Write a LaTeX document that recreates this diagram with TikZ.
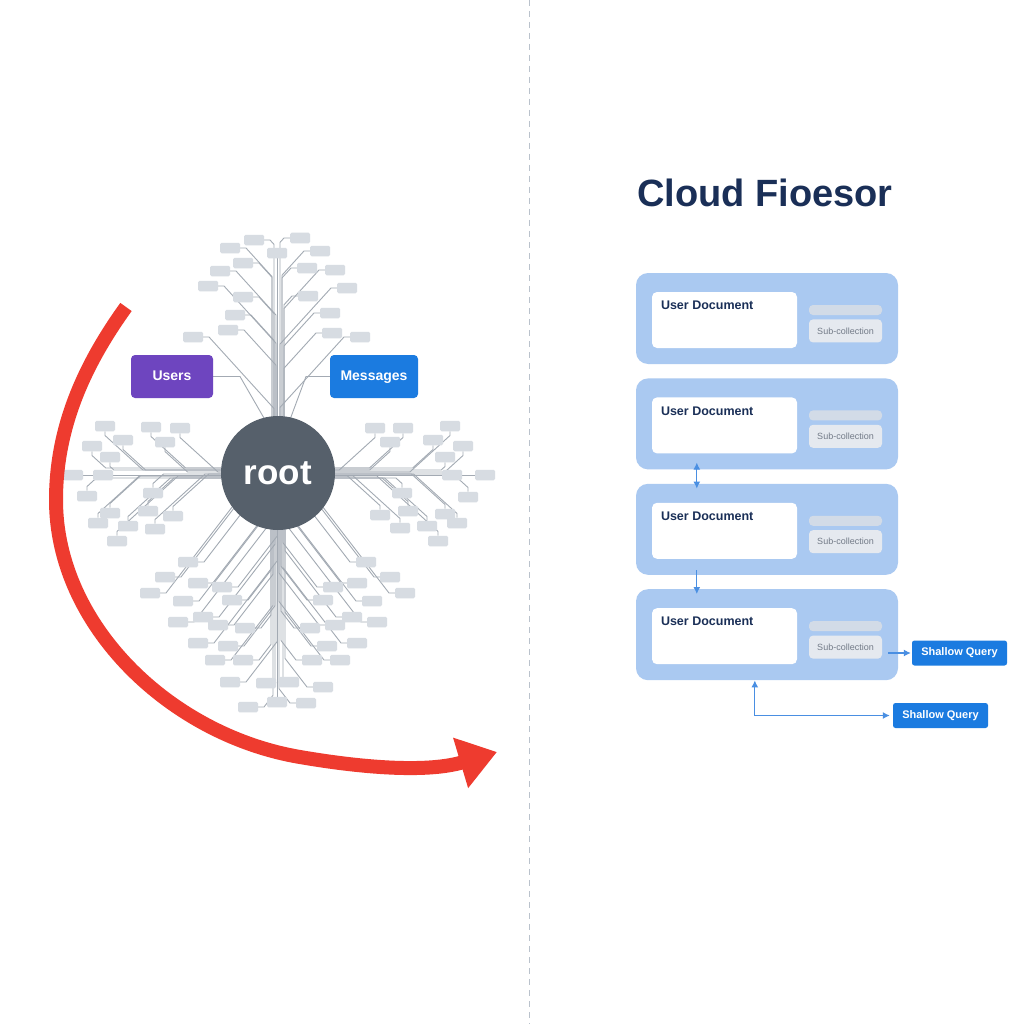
\documentclass[tikz,border=0pt]{standalone}
\usepackage{fontspec}
\setmainfont{Liberation Sans}
\usetikzlibrary{arrows.meta, positioning, calc}

\definecolor{leafgray}{HTML}{D7DCE2}
\definecolor{wiregray}{HTML}{A3AAB3}
\definecolor{rootgray}{HTML}{56606B}
\definecolor{userpurple}{HTML}{6E45BF}
\definecolor{msgblue}{HTML}{1B7BE0}
\definecolor{arcred}{HTML}{EE3B2F}
\definecolor{panelblue}{HTML}{AAC9F1}
\definecolor{navy}{HTML}{1A2F57}
\definecolor{barblue}{HTML}{D2DBE7}
\definecolor{subgray}{HTML}{E5E9EF}
\definecolor{subtext}{HTML}{737B88}
\definecolor{linkblue}{HTML}{4A8FE2}
\definecolor{divgray}{HTML}{BAC2CC}

\pgfdeclarelayer{canvas}
\pgfdeclarelayer{wires}
\pgfsetlayers{canvas,wires,main}

\tikzset{
  leaf/.style={fill=leafgray, rounded corners=1.5pt, minimum width=20pt, minimum height=10.5pt, inner sep=0pt},
  wire/.style={draw=wiregray, line width=0.9pt, line join=round},
  tag/.style={rounded corners=4pt, text=white, font=\bfseries\fontsize{14}{16}\selectfont, minimum height=43pt, inner sep=0pt, text height=10pt, text depth=3pt},
  panel/.style={fill=panelblue, rounded corners=12pt, minimum width=262pt, minimum height=91pt, inner sep=0pt},
  card/.style={fill=white, rounded corners=5pt, minimum width=145pt, minimum height=56pt, inner sep=0pt},
  cardhead/.style={text=navy, font=\bfseries\fontsize{12.5}{14}\selectfont, inner sep=0pt},
  subbar/.style={fill=barblue, rounded corners=4pt, minimum width=73pt, minimum height=10pt, inner sep=0pt},
  subbox/.style={fill=subgray, rounded corners=4pt, minimum width=73pt, minimum height=23pt, inner sep=0pt, text=subtext, font=\fontsize{9}{10}\selectfont},
  query/.style={fill=msgblue, rounded corners=2.5pt, minimum width=95pt, minimum height=25pt, inner sep=0pt, text=white, font=\bfseries\fontsize{11}{12}\selectfont, text height=8pt, text depth=2.5pt},
  link/.style={draw=linkblue, line width=1.2pt, >={Latex[length=7pt,width=7pt]}},
}

\begin{document}
\begin{tikzpicture}[x=1pt, y=-1pt]
\begin{pgfonlayer}{canvas}
  \fill[white] (0,0) rectangle (1024,1024);
\end{pgfonlayer}
\useasboundingbox (0,0) rectangle (1024,1024);

% divider
\coordinate (divtop) at (529,0);
\coordinate (divbot) at (529,1024);
\draw[divgray, line width=1pt, dash pattern=on 6pt off 5pt] (divtop) -- (divbot);

% upper branch
\foreach \bx/\by [count=\i] in {254/240, 230/248, 300/238, 320/251, 243/263, 220/271, 307/268, 335/270, 208/286, 243/297, 308/296, 347/288, 235/315, 330/313, 228/330, 193/337, 332/333, 360/337}{
  \node[leaf] (up\i) at (\bx,\by) {};
  \pgfmathtruncatemacro\dir{\bx<278 ? 1 : -1}
  \pgfmathtruncatemacro\ang{\dir>0 ? 0 : 180}
  \pgfmathsetmacro\sx{\bx+\dir*16}
  \pgfmathsetmacro\lane{278-\dir*(2+mod(\i,3)*2)}
  \pgfmathsetmacro\jy{\by+abs(\lane-\sx)*1.1}
  \begin{pgfonlayer}{wires}
    \draw[wire] (up\i.\ang) -- (\sx,\by) -- (\lane,\jy) -- (\lane,440);
  \end{pgfonlayer}
}
\node[leaf] (uptop) at (277,253) {};
\begin{pgfonlayer}{wires}
  \draw[wire] (uptop.south) -- (277,440);
\end{pgfonlayer}

% left branch
\foreach \bx/\by [count=\i] in {105/426, 151/427, 180/428, 123/440, 92/446, 165/442, 110/457, 87/496, 153/493, 110/513, 148/511, 173/516, 98/523, 128/526, 155/529, 117/541}{
  \node[leaf] (west\i) at (\bx,\by) {};
  \pgfmathtruncatemacro\dir{\by<473 ? 1 : -1}
  \pgfmathtruncatemacro\ang{\dir>0 ? 270 : 90}
  \pgfmathsetmacro\sy{\by+\dir*9.5}
  \pgfmathsetmacro\lane{473-\dir*(1+mod(\i,3)*2)}
  \pgfmathsetmacro\jx{\bx+abs(\lane-\sy)*1.1}
  \begin{pgfonlayer}{wires}
    \draw[wire] (west\i.\ang) -- (\bx,\sy) -- (\jx,\lane) -- (240,\lane);
  \end{pgfonlayer}
}
\node[leaf] (westa) at (73,475) {};
\node[leaf] (westb) at (103,475) {};
\begin{pgfonlayer}{wires}
  \draw[wire] (westa) -- (westb);
  \draw[wire] (westb.east) -- (240,475);
\end{pgfonlayer}

% right branch
\foreach \bx/\by [count=\i] in {375/428, 403/428, 450/426, 390/442, 433/440, 463/446, 445/457, 402/493, 468/497, 380/515, 408/511, 445/514, 400/528, 427/526, 457/523, 438/541}{
  \node[leaf] (east\i) at (\bx,\by) {};
  \pgfmathtruncatemacro\dir{\by<473 ? 1 : -1}
  \pgfmathtruncatemacro\ang{\dir>0 ? 270 : 90}
  \pgfmathsetmacro\sy{\by+\dir*9.5}
  \pgfmathsetmacro\lane{473-\dir*(1+mod(\i,3)*2)}
  \pgfmathsetmacro\jx{\bx-abs(\lane-\sy)*1.1}
  \begin{pgfonlayer}{wires}
    \draw[wire] (east\i.\ang) -- (\bx,\sy) -- (\jx,\lane) -- (316,\lane);
  \end{pgfonlayer}
}
\node[leaf] (easta) at (452,475) {};
\node[leaf] (eastb) at (485,475) {};
\begin{pgfonlayer}{wires}
  \draw[wire] (eastb) -- (easta);
  \draw[wire] (easta.west) -- (316,475);
\end{pgfonlayer}

% lower branch
\foreach \bx/\by [count=\i] in {188/562, 165/577, 198/583, 222/587, 150/593, 183/601, 232/600, 178/622, 203/617, 218/625, 245/628, 198/643, 228/646, 215/660, 243/660, 230/682, 266/683, 248/707,
    366/562, 390/577, 357/583, 333/587, 405/593, 372/601, 323/600, 377/622, 352/617, 335/625, 310/628, 357/643, 327/646, 340/660, 312/660, 289/682, 323/687, 306/703}{
  \node[leaf] (down\i) at (\bx,\by) {};
  \pgfmathtruncatemacro\dir{\bx<278 ? 1 : -1}
  \pgfmathtruncatemacro\ang{\dir>0 ? 0 : 180}
  \pgfmathsetmacro\sx{\bx+\dir*min(16,abs(\bx-278)-2)}
  \pgfmathsetmacro\lane{278-\dir*(1+mod(\i,4)*2)}
  \pgfmathsetmacro\jy{\by-abs(\lane-\sx)*1.3}
  \begin{pgfonlayer}{wires}
    \draw[wire] (down\i.\ang) -- (\sx,\by) -- (\lane,\jy) -- (\lane,505);
  \end{pgfonlayer}
}
\node[leaf] (downend) at (277,702) {};
\begin{pgfonlayer}{wires}
  \draw[wire] (downend.north) -- (277,505);
\end{pgfonlayer}

% collections
\node[tag, fill=userpurple, minimum width=82pt] (users) at (172,376.5) {Users};
\node[tag, fill=msgblue, minimum width=88pt] (messages) at (374,376.5) {Messages};
\begin{pgfonlayer}{wires}
  \draw[wire] (users.east) -- (240,376.5) -- (268,425);
  \draw[wire] (messages.west) -- (306,376.5) -- (288,425);
\end{pgfonlayer}

\node[circle, fill=rootgray, minimum size=114pt, inner sep=0pt, text=white, font=\bfseries\fontsize{35}{40}\selectfont] (root) at (278,473) {root};

% migration arc
\coordinate (arcfrom) at (126,307);
\coordinate (arcto) at (497,752);
\draw[arcred, line width=14pt, -{Triangle[length=38pt,width=50pt]}] (arcfrom) .. controls (82,368) and (56,430) .. (56,500)
  .. controls (56,625) and (170,735) .. (300,757) .. controls (370,769) and (430,772) .. (arcto);

% firestore side
\node[font=\bfseries\fontsize{38}{44}\selectfont, text=navy] (heading) at (765,193) {Cloud Fioesor};

\node[panel] (doc1) at (767,318.5) {};
\node[panel, below=14pt of doc1] (doc2) {};
\node[panel, below=14pt of doc2] (doc3) {};
\node[panel, below=14pt of doc3] (doc4) {};
\foreach \k in {1,...,4}{
  \node[card] (card\k) at ([shift={(-42.5,1.5)}]doc\k.center) {};
  \node[cardhead, anchor=north west] (head\k) at ([shift={(9,9)}]card\k.north west) {User Document};
  \node[subbar] (bar\k) at ([shift={(78.5,-8.5)}]doc\k.center) {};
  \node[subbox, below=4pt of bar\k] (sub\k) {Sub-collection};
}

\draw[link, <->] ([shift={(61,-7)}]doc2.south west) -- ([shift={(61,5)}]doc3.north west);
\draw[link, ->] ([shift={(61,-5)}]doc3.south west) -- ([shift={(61,5)}]doc4.north west);

\node[query] (sq1) at (959.5,653) {Shallow Query};
\node[query] (sq2) at (940.5,715.5) {Shallow Query};
\draw[link, ->] ([xshift=-10pt]doc4.east |- sq1.west) -- ([xshift=-1pt]sq1.west);
\draw[link, <->] ([xshift=119pt]doc4.south west) |- ([xshift=-3pt]sq2.west);
\end{tikzpicture}
\end{document}
